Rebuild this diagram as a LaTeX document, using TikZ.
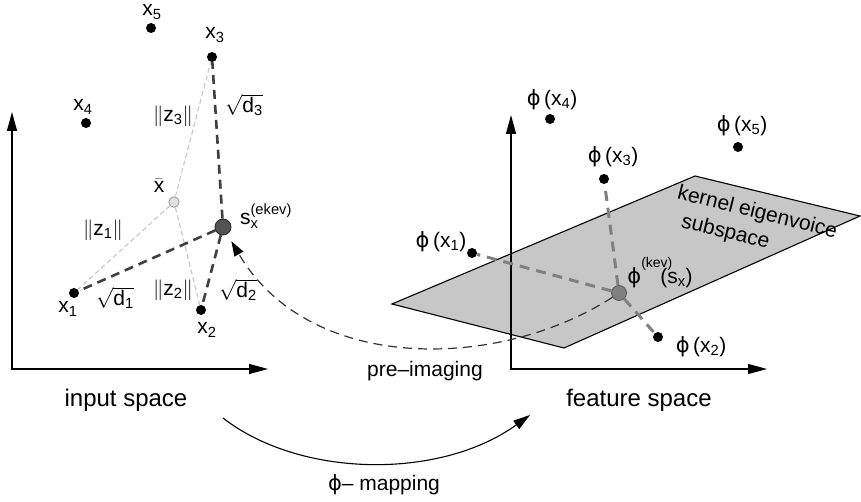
\documentclass[tikz,border=0pt]{standalone}
\usepackage{amsmath}
\usepackage{fontspec}
\setmainfont{Liberation Sans}
\newfontfamily\phifont{DejaVu Sans}
\newcommand{\fphi}{{\phifont ϕ}}
\usetikzlibrary{arrows.meta}

\begin{document}
\begin{tikzpicture}[x=1pt,y=-1pt,
  lbl/.style={font=\fontsize{21}{24}\selectfont,inner sep=0pt},
  big/.style={font=\fontsize{24}{27}\selectfont,inner sep=0pt},
  pt/.style={circle,fill=black,inner sep=0pt,minimum size=10pt},
  meanpt/.style={circle,fill=black!12,draw=black!40,line width=0.8pt,inner sep=0pt,minimum size=10.5pt},
  estpt/.style={circle,fill=black!68,draw=black!85,line width=0.8pt,inner sep=0pt,minimum size=16pt},
  featpt/.style={circle,fill=black!50,draw=black!65,line width=0.8pt,inner sep=0pt,minimum size=15pt},
  axis/.style={line width=1.2pt,{Triangle[length=19pt,width=10pt]}-{Triangle[length=19pt,width=10pt]}},
  dist/.style={black!75,line width=2.6pt,dash pattern=on 9pt off 6pt},
  norm/.style={black!22,line width=1.1pt,dash pattern=on 5pt off 3pt},
  proj/.style={black!50,line width=3pt,dash pattern=on 10pt off 7pt},
  pre/.style={black!80,line width=1.2pt,dash pattern=on 9pt off 6pt,-{Triangle[length=15pt,width=10pt,black]}},
]
\useasboundingbox (0,0) rectangle (861,502);
%%% input space
\coordinate (inY) at (12,112);
\coordinate (inX) at (268,369);
\draw[axis] (inY) |- (inX);
\node[big] (inlbl) at (126,400) {input space};
%
\node[pt] (x1) at (74,293) {};
\node[pt] (x2) at (201,310) {};
\node[pt] (x3) at (212,57) {};
\node[pt] (x4) at (86,123) {};
\node[pt] (x5) at (151,28) {};
\node[meanpt] (xbar) at (174,202) {};
\node[estpt] (sx) at (223,227) {};
\node[lbl] (lx1) at (68,309) {x\textsubscript{1}};
\node[lbl] (lx2) at (207,330) {x\textsubscript{2}};
\node[lbl] (lx3) at (215,35) {x\textsubscript{3}};
\node[lbl] (lx4) at (83,107) {x\textsubscript{4}};
\node[lbl] (lx5) at (152,12) {x\textsubscript{5}};
\node[lbl] (lxbar) at (159,186) {$\bar{\text{x}}$};
\node[lbl] (lsx) at (266,216) {$\text{s}_{\text{x}}^{\text{(ekev)}}$};
%
\draw[norm] (xbar) -- (x1);
\draw[norm] (xbar) -- (x2);
\draw[norm] (xbar) -- (x3);
\draw[dist] (sx) -- (x1);
\draw[dist] (sx) -- (x2);
\draw[dist] (sx) -- (x3);
\node[lbl] (lz1) at (103,230) {$\|\text{z}_{\text{1}}\|$};
\node[lbl] (lz2) at (173,290) {$\|\text{z}_{\text{2}}\|$};
\node[lbl] (lz3) at (173,116) {$\|\text{z}_{\text{3}}\|$};
\node[lbl] (ld1) at (115,298) {$\sqrt{\text{d}_{\text{1}}}$};
\node[lbl] (ld2) at (238,290) {$\sqrt{\text{d}_{\text{2}}}$};
\node[lbl] (ld3) at (244,105) {$\sqrt{\text{d}_{\text{3}}}$};
%%% feature space
\filldraw[fill=black!22,draw=black,line width=1.1pt] (392,304) -- (695,176) -- (860,216) -- (564,348) -- cycle;
\node[lbl,font=\fontsize{21}{26.7}\selectfont,rotate=-14,align=left] (kev) at (754,226)
  {kernel eigenvoice\\\hspace*{10.6pt}subspace};
\coordinate (ftY) at (511,115);
\coordinate (ftX) at (767,369);
\draw[axis] (ftY) |- (ftX);
\node[big] (ftlbl) at (639,400) {feature space};
%
\node[pt] (f1) at (472,253) {};
\node[pt] (f2) at (658,337) {};
\node[pt] (f3) at (604,179) {};
\node[pt] (f4) at (550,119) {};
\node[pt] (f5) at (738,147) {};
\node[featpt] (fsx) at (619,293) {};
\draw[proj] (fsx) -- (f1);
\draw[proj] (fsx) -- (f2);
\draw[proj] (fsx) -- (f3);
\node[lbl] (lf1) at (441,242) {\fphi\,(x\textsubscript{1})};
\node[lbl] (lf2) at (701,347) {\fphi\,(x\textsubscript{2})};
\node[lbl] (lf3) at (613,157) {\fphi\,(x\textsubscript{3})};
\node[lbl] (lf4) at (552,100) {\fphi\,(x\textsubscript{4})};
\node[lbl] (lf5) at (742,126) {\fphi\,(x\textsubscript{5})};
\node[lbl] (lfsx) at (660,273) {\fphi\raisebox{16pt}{\rlap{\fontsize{14}{14}\selectfont(kev)}}\hspace{19pt}(s\textsubscript{x})};
%%% the two mappings
\draw[pre,shorten >=8pt] (fsx) .. controls (500,370) and (310,375) .. (sx);
\node[lbl] (prelbl) at (425,371) {pre--imaging};
\coordinate (mapA) at (223,418);
\coordinate (mapB) at (530,415);
\draw[line width=1.1pt,-{Triangle[length=17pt,width=10pt]}] (mapA) .. controls (300,478) and (440,480) .. (mapB);
\node[lbl] (maplbl) at (384,485) {\fphi-- mapping};
\end{tikzpicture}
\end{document}
